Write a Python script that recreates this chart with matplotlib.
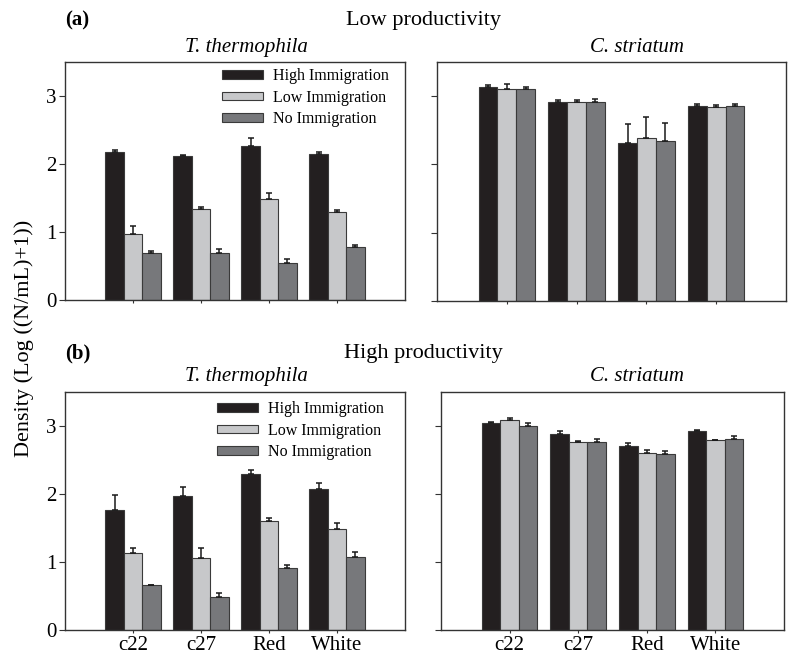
import matplotlib
matplotlib.use("Agg")
import matplotlib.pyplot as plt
import numpy as np

plt.rcParams['font.family'] = ['Liberation Serif', 'DejaVu Serif']

categories = ["c22", "c27", "Red", "White"]
series = ["High Immigration", "Low Immigration", "No Immigration"]
colors = ["#231f20", "#c7c8ca", "#77787b"]

# (a) Low productivity
low_tt_mean = {"High Immigration": [2.17, 2.12, 2.27, 2.14],
               "Low Immigration": [0.97, 1.34, 1.48, 1.29],
               "No Immigration": [0.69, 0.69, 0.54, 0.775]}
low_tt_err = {"High Immigration": [0.04, 0.01, 0.11, 0.03],
              "Low Immigration": [0.12, 0.03, 0.10, 0.04],
              "No Immigration": [0.03, 0.055, 0.06, 0.035]}
low_cs_mean = {"High Immigration": [3.14, 2.92, 2.31, 2.85],
               "Low Immigration": [3.11, 2.91, 2.39, 2.84],
               "No Immigration": [3.11, 2.92, 2.34, 2.85]}
low_cs_err = {"High Immigration": [0.03, 0.02, 0.28, 0.04],
              "Low Immigration": [0.07, 0.04, 0.30, 0.03],
              "No Immigration": [0.02, 0.04, 0.26, 0.04]}
# (b) High productivity
high_tt_mean = {"High Immigration": [1.77, 1.97, 2.30, 2.07],
                "Low Immigration": [1.13, 1.06, 1.61, 1.48],
                "No Immigration": [0.66, 0.49, 0.905, 1.08]}
high_tt_err = {"High Immigration": [0.21, 0.13, 0.05, 0.09],
               "Low Immigration": [0.08, 0.14, 0.04, 0.10],
               "No Immigration": [0.0, 0.06, 0.05, 0.065]}
high_cs_mean = {"High Immigration": [3.05, 2.88, 2.71, 2.92],
                "Low Immigration": [3.09, 2.76, 2.61, 2.79],
                "No Immigration": [3.00, 2.76, 2.59, 2.815]}
high_cs_err = {"High Immigration": [0.01, 0.04, 0.04, 0.02],
               "Low Immigration": [0.03, 0.02, 0.03, 0.005],
               "No Immigration": [0.05, 0.05, 0.04, 0.035]}

W, H = 789, 657
fig = plt.figure(figsize=(W / 100, H / 100), dpi=100)


def ax_at(x0, y0, x1, y1):
    return fig.add_axes([x0 / W, 1 - y1 / H, (x1 - x0) / W, (y1 - y0) / H])


ax_tl = ax_at(65, 62, 405, 300)
ax_tr = ax_at(437, 62, 786, 301)
ax_bl = ax_at(65, 392, 405, 630)
ax_br = ax_at(441, 392, 784, 630)

x = np.arange(len(categories))
bw = 0.27


def draw(ax, means, errs, ylabels, xlabels, legend_anchor=None):
    for i, s in enumerate(series):
        pos = x + (i - 1) * bw
        ax.bar(pos, means[s], width=bw, color=colors[i], edgecolor="#3a3a3a",
               linewidth=0.8, label=s, zorder=2)
        yerr = [np.zeros(len(categories)), errs[s]]
        ax.errorbar(pos, means[s], yerr=yerr, fmt="none", ecolor="#1a1a1a",
                    elinewidth=1.1, capsize=2.5, capthick=1.1, zorder=3)
    ax.set_xlim(-1, 4)
    ax.set_ylim(0, 3.5)
    ax.set_yticks([0, 1, 2, 3])
    ax.set_xticks(x)
    for sp in ax.spines.values():
        sp.set_linewidth(1.0)
        sp.set_color("#333333")
    ax.tick_params(axis="both", direction="out", length=4, width=0.8,
                   color="#333333", labelsize=15)
    ax.tick_params(axis="x", pad=1.5, length=2.5)
    ax.tick_params(axis="y", pad=2)
    if ylabels:
        ax.set_yticklabels(["0", "1", "2", "3"])
    else:
        ax.set_yticklabels([])
    if xlabels:
        ax.set_xticklabels(categories)
    else:
        ax.set_xticklabels([])
    if legend_anchor is not None:
        ax.legend(loc="upper left", bbox_to_anchor=legend_anchor, frameon=False,
                  fontsize=11.5, handlelength=2.6, handleheight=0.45,
                  handletextpad=0.6, labelspacing=0.35, borderpad=0,
                  borderaxespad=0)


draw(ax_tl, low_tt_mean, low_tt_err, True, False, legend_anchor=(0.461, 0.975))
draw(ax_tr, low_cs_mean, low_cs_err, False, False)
draw(ax_bl, high_tt_mean, high_tt_err, True, True, legend_anchor=(0.446, 0.962))
draw(ax_br, high_cs_mean, high_cs_err, False, True)


def ftext(px, py, s, **kw):
    fig.text(px / W, 1 - py / H, s, **kw)


ftext(65, 25, "(a)", fontsize=15, fontweight="bold", va="baseline", ha="left")
ftext(423, 25, "Low productivity", fontsize=16, va="baseline", ha="center")
ftext(246, 52, "T. thermophila", fontsize=15, style="italic", va="baseline", ha="center")
ftext(637, 52, "C. striatum", fontsize=15, style="italic", va="baseline", ha="center")

ftext(65, 358, "(b)", fontsize=15, fontweight="bold", va="baseline", ha="left")
ftext(423, 358, "High productivity", fontsize=16, va="baseline", ha="center")
ftext(246, 381, "T. thermophila", fontsize=15, style="italic", va="baseline", ha="center")
ftext(637, 381, "C. striatum", fontsize=15, style="italic", va="baseline", ha="center")

ftext(24, 338, "Density (Log ((N/mL)+1))", fontsize=16, rotation=90,
      va="center", ha="center")

fig.savefig("out.png", dpi=100)
